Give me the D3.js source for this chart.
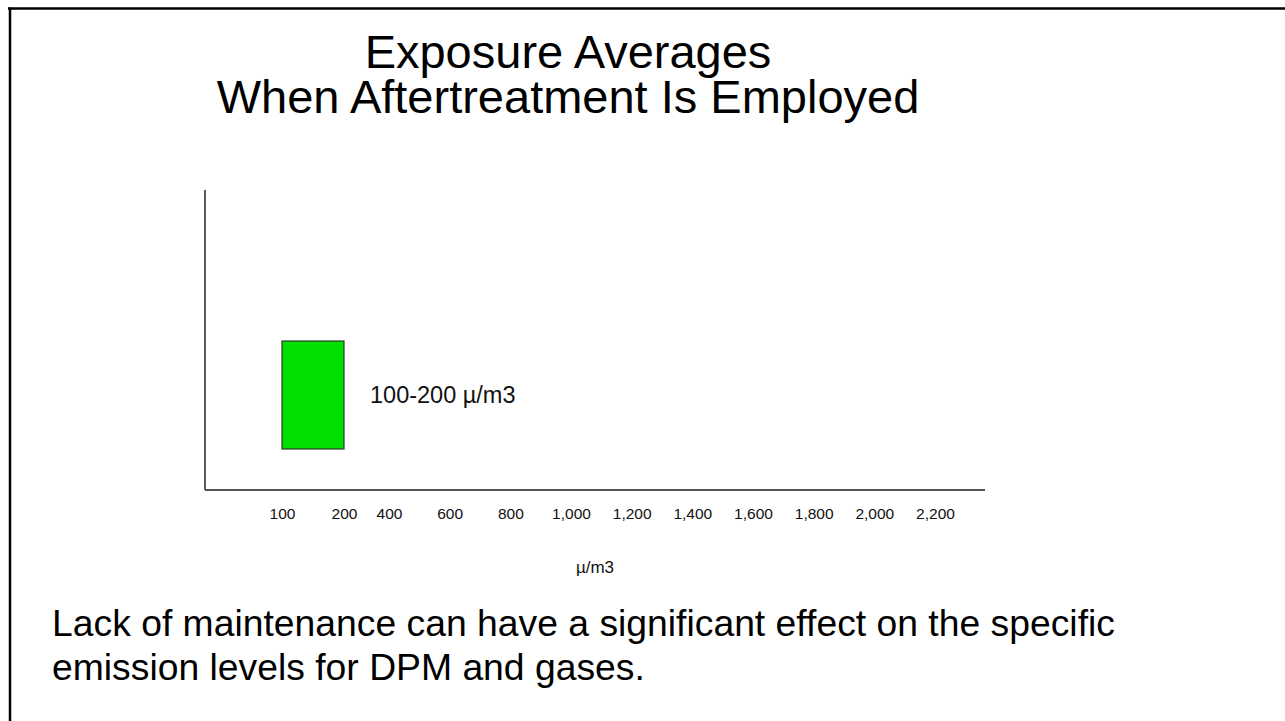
<!DOCTYPE html>
<html>
<head>
<meta charset="utf-8">
<script src="https://cdn.jsdelivr.net/npm/d3@7"></script>
<style>
  html, body { margin: 0; padding: 0; background: #ffffff; }
  svg { display: block; font-family: "Liberation Sans", Arial, Helvetica, sans-serif; }
</style>
</head>
<body>
<svg id="chart" width="1285" height="721"></svg>
<script>
// ---- data ----
const titleLines = ["Exposure Averages", "When Aftertreatment Is Employed"];
const tickValues = [100, 200, 400, 600, 800, 1000, 1200, 1400, 1600, 1800, 2000, 2200];
const categories = ["Aftertreatment"];
const rangeStart = [100];
const rangeEnd = [200];
const barLabels = ["100-200 µ/m3"];
const axisTitle = "µ/m3";
const bodyLines = [
  "Lack of maintenance can have a significant effect on the specific",
  "emission levels for DPM and gases."
];

// ---- layout ----
const W = 1285, H = 721;
const plot = { left: 205, right: 985, top: 190, bottom: 490 };
const svg = d3.select("#chart");

// slide frame (extends beyond the right/bottom edges)
svg.append("line").attr("x1", 8).attr("x2", W).attr("y1", 8.5).attr("y2", 8.5)
  .attr("stroke", "#000").attr("stroke-width", 2.5);
svg.append("line").attr("x1", 10).attr("x2", 10).attr("y1", 7.5).attr("y2", H)
  .attr("stroke", "#000").attr("stroke-width", 2.5);

// title
svg.append("g").selectAll("text").data(titleLines).join("text")
  .attr("x", 568).attr("y", (d, i) => 68 + i * 45)
  .attr("text-anchor", "middle")
  .attr("font-size", 47).attr("fill", "#000")
  .text(d => d);

// scales (hand-placed axis labels -> piecewise linear scale)
const x = d3.scaleLinear()
  .domain([100, 200, 400, 2200])
  .range([282, 344, 389, 935]);
const y = d3.scaleBand().domain(categories).range([341, 449]).padding(0);

// axes lines
svg.append("line").attr("x1", plot.left).attr("x2", plot.left)
  .attr("y1", plot.top).attr("y2", plot.bottom)
  .attr("stroke", "#000").attr("stroke-width", 1.3);
svg.append("line").attr("x1", plot.left).attr("x2", plot.right)
  .attr("y1", plot.bottom).attr("y2", plot.bottom)
  .attr("stroke", "#555").attr("stroke-width", 2);

// tick labels via d3 axis
const xAxis = d3.axisBottom(x).tickValues(tickValues)
  .tickFormat(d3.format(",")).tickSize(0).tickPadding(0);
const gx = svg.append("g").attr("transform", `translate(0, ${plot.bottom})`).call(xAxis);
gx.select(".domain").remove();
gx.selectAll("text")
  .attr("y", 29).attr("dy", 0)
  .attr("font-size", 15.5)
  .attr("font-family", "\"Liberation Sans\", Arial, Helvetica, sans-serif")
  .attr("fill", "#111");

// axis title
svg.append("text").attr("x", (plot.left + plot.right) / 2).attr("y", 573)
  .attr("text-anchor", "middle").attr("font-size", 17).attr("fill", "#111")
  .text(axisTitle);

// bars
const bars = categories.map((c, i) => ({ c, s: rangeStart[i], e: rangeEnd[i], label: barLabels[i] }));
svg.append("g").selectAll("rect").data(bars).join("rect")
  .attr("x", d => x(d.s)).attr("width", d => x(d.e) - x(d.s))
  .attr("y", d => y(d.c)).attr("height", y.bandwidth())
  .attr("fill", "#00e000").attr("stroke", "#2a3a2a").attr("stroke-width", 1.2);

svg.append("g").selectAll("text").data(bars).join("text")
  .attr("x", d => x(d.e) + 26).attr("y", d => y(d.c) + y.bandwidth() / 2 + 8)
  .attr("font-size", 23.5).attr("fill", "#111")
  .text(d => d.label);

// body text
svg.append("g").selectAll("text").data(bodyLines).join("text")
  .attr("x", 52).attr("y", (d, i) => 636 + i * 44)
  .attr("font-size", 37.3).attr("fill", "#000")
  .text(d => d);
</script>
</body>
</html>
